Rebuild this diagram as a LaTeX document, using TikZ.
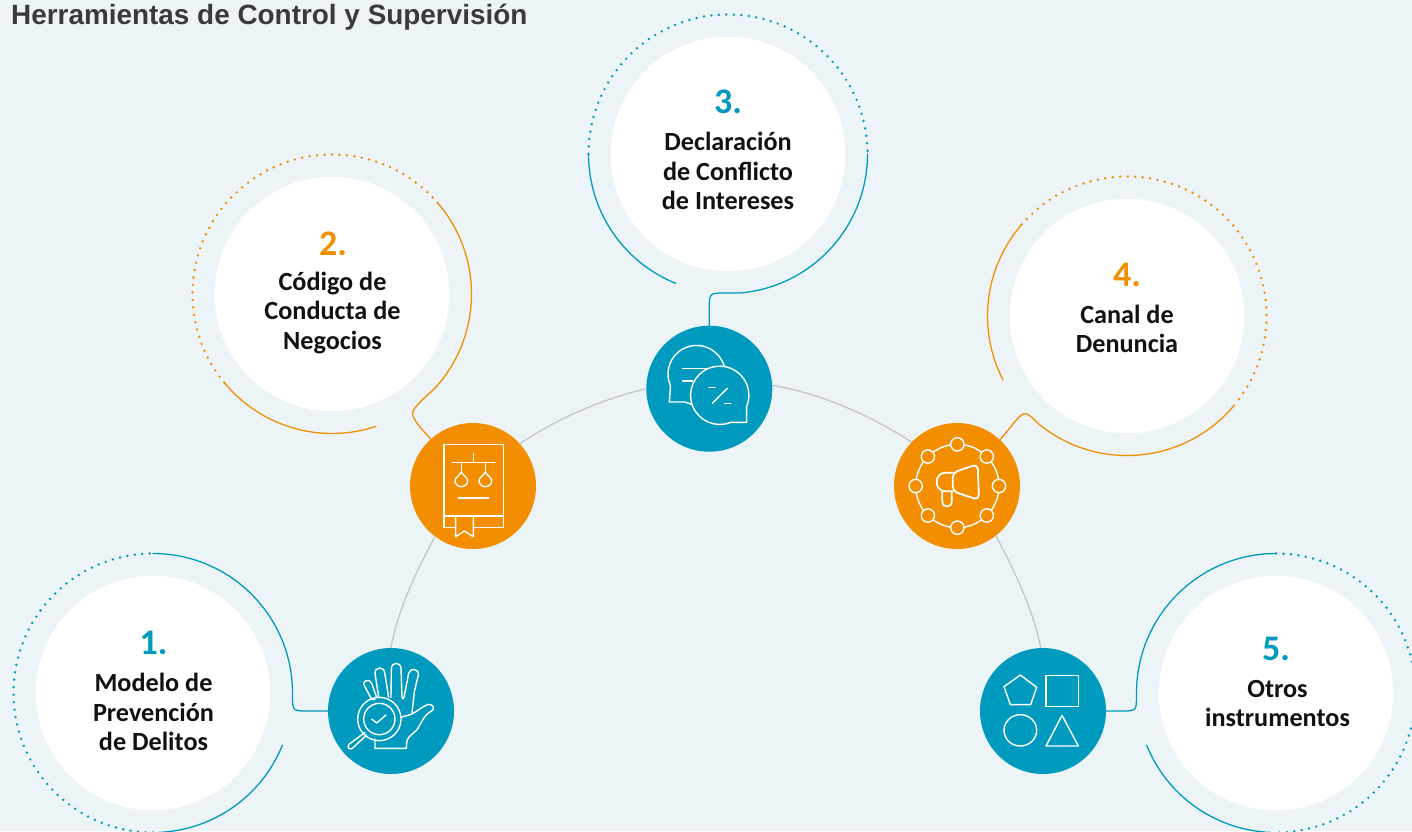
\documentclass[tikz,border=0pt]{standalone}
\usepackage{fontspec}
\setmainfont{Carlito}
\newfontfamily\titlefont{Liberation Sans}
\usetikzlibrary{calc}
\definecolor{bgc}{HTML}{ECF4F8}
\definecolor{tealc}{HTML}{009ABF}
\definecolor{orangec}{HTML}{F28E00}
\definecolor{greyc}{HTML}{C6C6C6}
\definecolor{titlec}{HTML}{3A3A3A}
\definecolor{textc}{HTML}{111111}
\newcommand{\ringfrom}[2]{($(#1)+(#2:139.5)$)}
\newcommand{\ringarc}[2]{arc[start angle=#1,end angle=#2,radius=139.5]}
\newcommand{\dropshape}[1]{(#1,246) .. controls (#1-4,256) and (#1-19,262) .. (#1-19,272) .. controls (#1-19,283) and (#1-9,290) .. (#1,290) .. controls (#1+9,290) and (#1+19,283) .. (#1+19,272) .. controls (#1+19,262) and (#1+4,256) .. (#1,246) -- cycle}
\tikzset{
  whitedisc/.style={circle,fill=white,minimum size=234.5pt,inner sep=0pt},
  icondisc/.style={circle,minimum size=126pt,inner sep=0pt},
  numlabel/.style={font=\bfseries\fontsize{36}{36}\selectfont,inner sep=0pt},
  mainlabel/.style={font=\bfseries\fontsize{26.2}{29.2}\selectfont,text=textc,align=center,inner sep=0pt},
  ringline/.style={line width=1.3pt,line cap=round},
  ringdots/.style={line width=2.7pt,line cap=round,dash pattern=on 0pt off 7.5pt},
  linkline/.style={draw=greyc,line width=1.3pt},
  iconline/.style={draw=white,line width=1.4pt,line join=round,line cap=round},
}
\begin{document}
\begin{tikzpicture}[x=1pt,y=-1pt]
\useasboundingbox (0,0) rectangle (1412,831);
\clip (0,0) rectangle (1412,831);
\fill[bgc] (0,0) rectangle (1412,831);

% discs
\node[whitedisc] (c1) at (153,693) {};
\node[whitedisc] (c2) at (332,294) {};
\node[whitedisc] (c3) at (728,154) {};
\node[whitedisc] (c4) at (1127,316) {};
\node[whitedisc] (c5) at (1276,693) {};
\node[icondisc,fill=tealc] (i1) at (391,711) {};
\node[icondisc,fill=orangec] (i2) at (473,486) {};
\node[icondisc,fill=tealc] (i3) at (709.3,388.7) {};
\node[icondisc,fill=orangec] (i4) at (957,486) {};
\node[icondisc,fill=tealc] (i5) at (1043,711) {};

% grey links
\draw[linkline] (i1.90) .. controls +(7,-40) and +(-16,30) .. (i2.233);
\draw[linkline] (i2.42) .. controls +(38,-26) and +(-42,10) .. (i3.180);
\draw[linkline] (i3.3.5) .. controls +(50,8) and +(-36,-24) .. (i4.136);
\draw[linkline] (i4.308) .. controls +(16,30) and +(-8,-40) .. (i5.92);

% corners
\coordinate (k1) at (292.5,711);
\coordinate (k2) at (410,413);
\coordinate (k3) at (709.3,293);
\coordinate (k4) at (1025,410.5);
\coordinate (k5) at (1136.5,711);

% ring 1
\draw[ringdots,tealc] \ringfrom{c1}{90} \ringarc{90}{270};
\draw[ringline,tealc] \ringfrom{c1}{-90} \ringarc{-90}{0} -- ($(k1)+(0,-16)$) .. controls (k1) .. ($(k1)+(16,0)$) -- (i1.west);
\draw[ringline,tealc] \ringfrom{c1}{22} \ringarc{22}{88};
% ring 2
\draw[ringdots,orangec] \ringfrom{c2}{140.6} \ringarc{140.6}{319.4};
\draw[ringline,orangec] \ringfrom{c2}{-40.6} \ringarc{-40.6}{43} -- ($(k2)+(12,-13)$) .. controls (k2) .. ($(k2)+(9,13)$) -- (i2.132);
\draw[ringline,orangec] \ringfrom{c2}{140.6} \ringarc{140.6}{71.6};
% ring 3
\draw[ringdots,tealc] \ringfrom{c3}{180} \ringarc{180}{360};
\draw[ringline,tealc] \ringfrom{c3}{180} \ringarc{180}{112};
\draw[ringline,tealc] \ringfrom{c3}{0} \ringarc{0}{85} -- ($(k3)+(16,0)$) .. controls (k3) .. ($(k3)+(0,16)$) -- (i3.north);
% ring 4
\draw[ringdots,orangec] \ringfrom{c4}{221} \ringarc{221}{399.5};
\draw[ringline,orangec] \ringfrom{c4}{221} \ringarc{221}{152.7};
\draw[ringline,orangec] \ringfrom{c4}{39.5} \ringarc{39.5}{129} .. controls (k4) .. ($(k4)+(-10,11)$) -- (i4.47.5);
% ring 5
\draw[ringdots,tealc] \ringfrom{c5}{-90} \ringarc{-90}{90};
\draw[ringline,tealc] \ringfrom{c5}{270} \ringarc{270}{180} -- ($(k5)+(0,-16)$) .. controls (k5) .. ($(k5)+(-16,0)$) -- (i5.east);
\draw[ringline,tealc] \ringfrom{c5}{158} \ringarc{158}{92};

% text
\node[font=\titlefont\bfseries\fontsize{27.9}{30}\selectfont,text=titlec,anchor=base west,inner sep=0pt] (title) at (11,24) {Herramientas de Control y Supervisión};
\node[numlabel,text=tealc] (n1) at (153.5,643) {1.};
\node[mainlabel] (t1) at (153.5,712) {Modelo de\\Prevención\\de Delitos};
\node[numlabel,text=orangec] (n2) at (333,243.5) {2.};
\node[mainlabel] (t2) at (332.5,313) {Código de\\Conducta de\\Negocios};
\node[numlabel,text=tealc] (n3) at (728,101.5) {3.};
\node[mainlabel] (t3) at (728,171) {Declaración\\de Conflicto\\de Intereses};
\node[numlabel,text=orangec] (n4) at (1127,274.5) {4.};
\node[mainlabel] (t4) at (1127,328.5) {Canal de\\Denuncia};
\node[numlabel,text=tealc] (n5) at (1276,649) {5.};
\node[mainlabel] (t5) at (1277.5,703.5) {Otros\\instrumentos};

% icon 1: hand and magnifier
\begin{scope}[shift={(320,640)},scale=1/3]
\draw[iconline] (165,178) -- (155,178) -- (131,133) .. controls (128,122) and (150,115) .. (155,130) -- (170,172);
\draw[iconline] (176,170) -- (165,100) .. controls (164,80) and (192,78) .. (194,98) -- (206,172);
\draw[iconline] (213,172) -- (214,85) .. controls (216,65) and (242,65) .. (243,85) -- (246,172) .. controls (246,178) and (251,178) .. (252,172) -- (266,100) .. controls (270,82) and (298,85) .. (295,105) -- (283,155) -- (276,218);
\draw[iconline] (243,232) -- (276,222) .. controls (295,212) and (305,200) .. (325,193) .. controls (340,192) and (345,208) .. (335,213) .. controls (310,225) and (305,250) .. (290,270) -- (268,290) .. controls (262,295) and (260,300) .. (259,325) -- (165,325) -- (165,297);
\draw[iconline] (178,237) circle[radius=65];
\draw[iconline] (178,237) circle[radius=47];
\draw[iconline] (155,237) -- (170,249) -- (198,225);
\draw[iconline] (135,277) -- (88,312) .. controls (78,322) and (90,332) .. (98,324) -- (140,285);
\end{scope}

% icon 2: book and scales
\begin{scope}[shift={(400,390)},scale=1/3]
\draw[iconline] (132,163) rectangle (310,413);
\fill[orangec] (167,378) -- (167,440) -- (193,423) -- (220,440) -- (220,378) -- cycle;
\draw[iconline] (132,378) -- (310,378);
\draw[iconline] (167,378) -- (167,440) -- (193,423) -- (220,440) -- (220,378);
\draw[iconline] (157,217) -- (284,217);
\draw[iconline] (220,190) -- (220,217);
\draw[iconline] (184,217) -- (184,246);
\draw[iconline] (256,217) -- (256,246);
\draw[iconline] \dropshape{184};
\draw[iconline] \dropshape{256};
\draw[iconline] (175,324) -- (266,324);
\end{scope}

% icon 3: speech bubbles
\begin{scope}[shift={(640,280)},scale=1/3]
\draw[iconline] (253,260) arc[start angle=345,end angle=156,radius=86] -- (88,366) -- (135,366) -- (155,373);
\draw[iconline] (128,266) -- (205,266);
\draw[iconline] (128,303) -- (158,303);
\draw[iconline] (320,380) -- (320,427) -- (272,427) arc[start angle=68,end angle=383,radius=87.5];
\draw[iconline] (207,322) -- (225,322);
\draw[iconline] (217,370) -- (263,324);
\draw[iconline] (254,370) -- (272,370);
\end{scope}

% icon 4: megaphone ring
\begin{scope}[shift={(885,400)},scale=1/3]
\draw[iconline] (217,258) circle[radius=125];
\foreach \a in {0,45,...,315}{
  \filldraw[iconline,fill=orangec] ($(217,258)+(\a:125)$) circle[radius=20];
}
\draw[iconline,line width=1.8pt,rounded corners=5pt] (203,218) -- (278,192) -- (282,300) -- (203,274) -- cycle;
\draw[iconline,line width=1.8pt] (203,218) -- (182,218) .. controls (146,218) and (146,274) .. (182,274) -- (203,274);
\draw[iconline,line width=1.8pt] (172,274) -- (172,305) .. controls (172,324) and (200,324) .. (200,305) -- (200,277);
\end{scope}

% icon 5: shapes
\begin{scope}[shift={(970,640)},scale=1/3]
\draw[iconline] (151,105) -- (200,142) -- (182,194) -- (121,194) -- (102,140) -- cycle;
\draw[iconline] (228,106) rectangle (325,199);
\draw[iconline] (151,271) ellipse[x radius=49,y radius=47];
\draw[iconline] (276,226) -- (325,318) -- (228,318) -- cycle;
\end{scope}
\end{tikzpicture}
\end{document}
